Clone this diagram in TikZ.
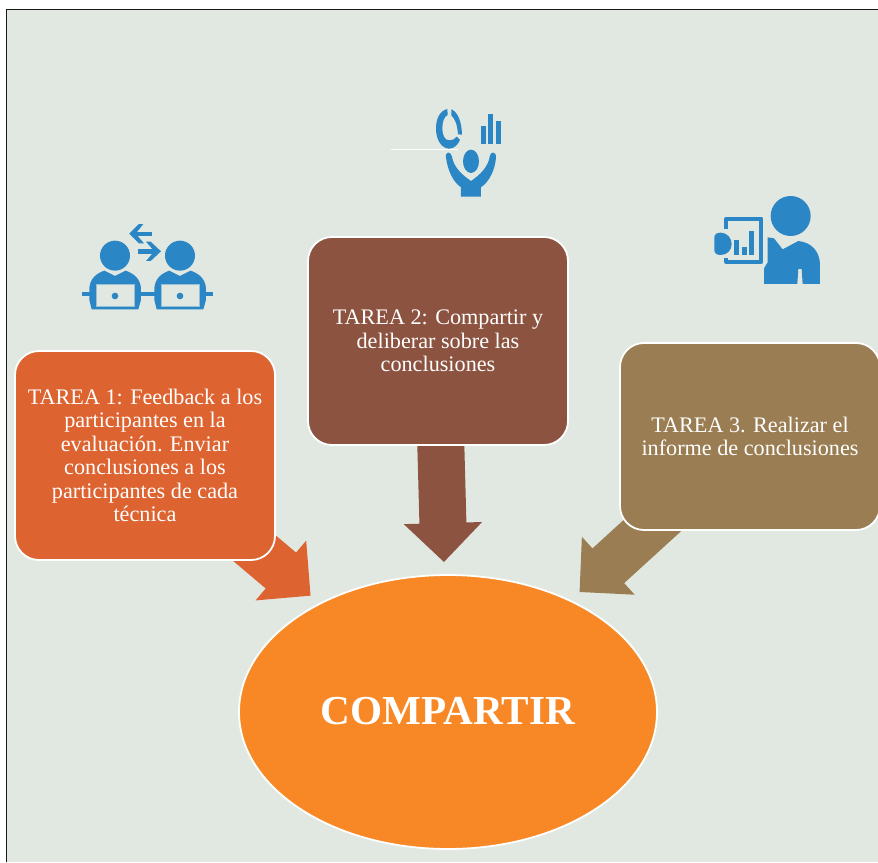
\documentclass[tikz,border=0pt]{standalone}
\usepackage{fontspec}
\setmainfont{Liberation Serif}
\usetikzlibrary{arrows.meta,backgrounds,shapes.geometric}
\definecolor{bgc}{HTML}{E1E8E1}
\definecolor{ora}{HTML}{DD6330}
\definecolor{bro}{HTML}{8B5340}
\definecolor{tan}{HTML}{9A7D53}
\definecolor{mainc}{HTML}{F78825}
\definecolor{ico}{HTML}{2A86C4}
\tikzset{
  taskbox/.style={draw=white,line width=1.8pt,rounded corners=24pt,minimum width=260pt,inner sep=0pt,align=center,text=white,font=\fontsize{22.2}{23.5}\selectfont},
  blockarrow/.style={line width=47pt,-{Triangle[length=39pt,width=76pt]}},
  iconbox/.style={x=.3333pt,y=-.3333pt},
}
\begin{document}
\begin{tikzpicture}[x=1pt,y=-1pt]
\useasboundingbox (0,0) rectangle (878,862);
\begin{pgfonlayer}{background}
\fill[white] (0,0) rectangle (878,862);
\fill[bgc] (6,10) rectangle (878,862);
\draw[black!90,line width=1pt] (6.5,862) -- (6.5,9.5) -- (878,9.5);
\end{pgfonlayer}

\node[taskbox,fill=ora,minimum height=209pt] (t1) at (145,455.5) {TAREA 1: Feedback a los\\participantes en la\\evaluación. Enviar\\conclusiones a los\\participantes de cada\\técnica};
\node[taskbox,fill=bro,minimum height=208pt] (t2) at (438,341) {TAREA 2: Compartir y\\deliberar sobre las\\conclusiones};
\node[taskbox,fill=tan,minimum height=187pt] (t3) at (750,436.5) {TAREA 3. Realizar el\\informe de conclusiones};
\node[draw=white,line width=1.8pt,fill=mainc,ellipse,minimum width=418pt,minimum height=274pt,inner sep=0pt,text=white,text depth=2pt,font=\fontsize{41.2}{48}\selectfont\bfseries] (c) at (448,712) {COMPARTIR};

\begin{pgfonlayer}{background}
\draw[blockarrow,draw=ora,shorten >=180pt] (t1.center) -- (c.center);
\draw[blockarrow,draw=bro,shorten >=150pt] (t2.center) -- (c.center);
\draw[blockarrow,draw=tan,shorten >=178pt] (t3.center) -- (c.center);
\end{pgfonlayer}

% icon: two people with laptops
\begin{scope}[shift={(70,210)},iconbox]
\foreach \dx in {0,195}{
\begin{scope}[xshift=\dx*.3333pt]
\fill[ico] (135,137) circle (45);
\fill[ico] (58,270) -- (58,235) .. controls (60,205) and (80,190) .. (103,182) -- (135,198) -- (167,182) .. controls (190,190) and (211,205) .. (213,235) -- (213,270) -- (205,298) -- (65,298) -- cycle;
\fill[bgc,draw=ico!40!bgc,line width=.5pt] (80,222) rectangle (192,290);
\fill[ico] (135,258) circle (10);
\end{scope}}
\fill[ico] (36,245) rectangle (68,258);
\fill[ico] (200,245) rectangle (265,258);
\fill[ico] (395,245) rectangle (430,258);
\fill[ico] (195,65) rectangle (245,78);
\fill[ico] (178,71) -- (207,42) -- (220,42) -- (197,71) -- (222,100) -- (207,100) -- cycle;
\fill[ico] (205,118) rectangle (255,132);
\fill[ico] (273,124) -- (242,95) -- (228,95) -- (253,124) -- (228,153) -- (242,153) -- cycle;
\end{scope}

% icon: person with chart
\begin{scope}[shift={(380,90)},iconbox]
\draw[white,line width=.6pt] (33,178) -- (235,178);
\fill[ico] (202,57) .. controls (180,62) and (168,85) .. (168,116) .. controls (168,150) and (185,176) .. (208,176) .. controls (222,176) and (233,165) .. (240,150) -- (230,140) .. controls (225,148) and (217,151) .. (208,151) .. controls (195,151) and (187,137) .. (187,116) .. controls (187,95) and (192,80) .. (203,75) -- cycle;
\fill[ico] (214,58) .. controls (232,65) and (245,92) .. (246,134) -- (234,133) .. controls (232,105) and (226,88) .. (214,76) -- cycle;
\fill[ico] (303,108) rectangle (318,162);
\fill[ico] (324,72) rectangle (339,162);
\fill[ico] (348,93) rectangle (363,162);
\fill[ico] (273,214) ellipse [x radius=24,y radius=35];
\fill[ico] (243,320) -- (303,320) -- (303,292) .. controls (328,275) and (345,240) .. (348,203) .. controls (349,183) and (331,183) .. (329,200) .. controls (325,230) and (300,255) .. (273,273) .. controls (246,255) and (220,230) .. (216,200) .. controls (212,183) and (195,183) .. (198,203) .. controls (203,240) and (218,275) .. (243,292) -- cycle;
\end{scope}

% icon: presenter with tablet
\begin{scope}[shift={(700,185)},iconbox]
\fill[ico] (272,93) circle (60);
\fill[ico] (192,297) -- (192,250) -- (203,232) -- (203,157) -- (222,160) -- (248,193) -- (295,168) .. controls (335,172) and (360,200) .. (360,240) -- (360,297) -- (308,297) -- (305,252) -- (295,252) -- (292,297) -- cycle;
\draw[ico,line width=4pt,line join=round] (79,132) -- (79,101) -- (184,101) -- (184,231) -- (79,231) -- (79,218);
\fill[ico] (102,165) rectangle (117,210);
\fill[ico] (126,186) rectangle (141,210);
\fill[ico] (147,138) rectangle (162,210);
\fill[ico] (62,143) .. controls (82,143) and (95,160) .. (95,177) .. controls (95,195) and (82,210) .. (62,210) .. controls (50,210) and (43,205) .. (43,195) -- (43,158) .. controls (43,148) and (50,143) .. (62,143) -- cycle;
\end{scope}
\end{tikzpicture}
\end{document}
